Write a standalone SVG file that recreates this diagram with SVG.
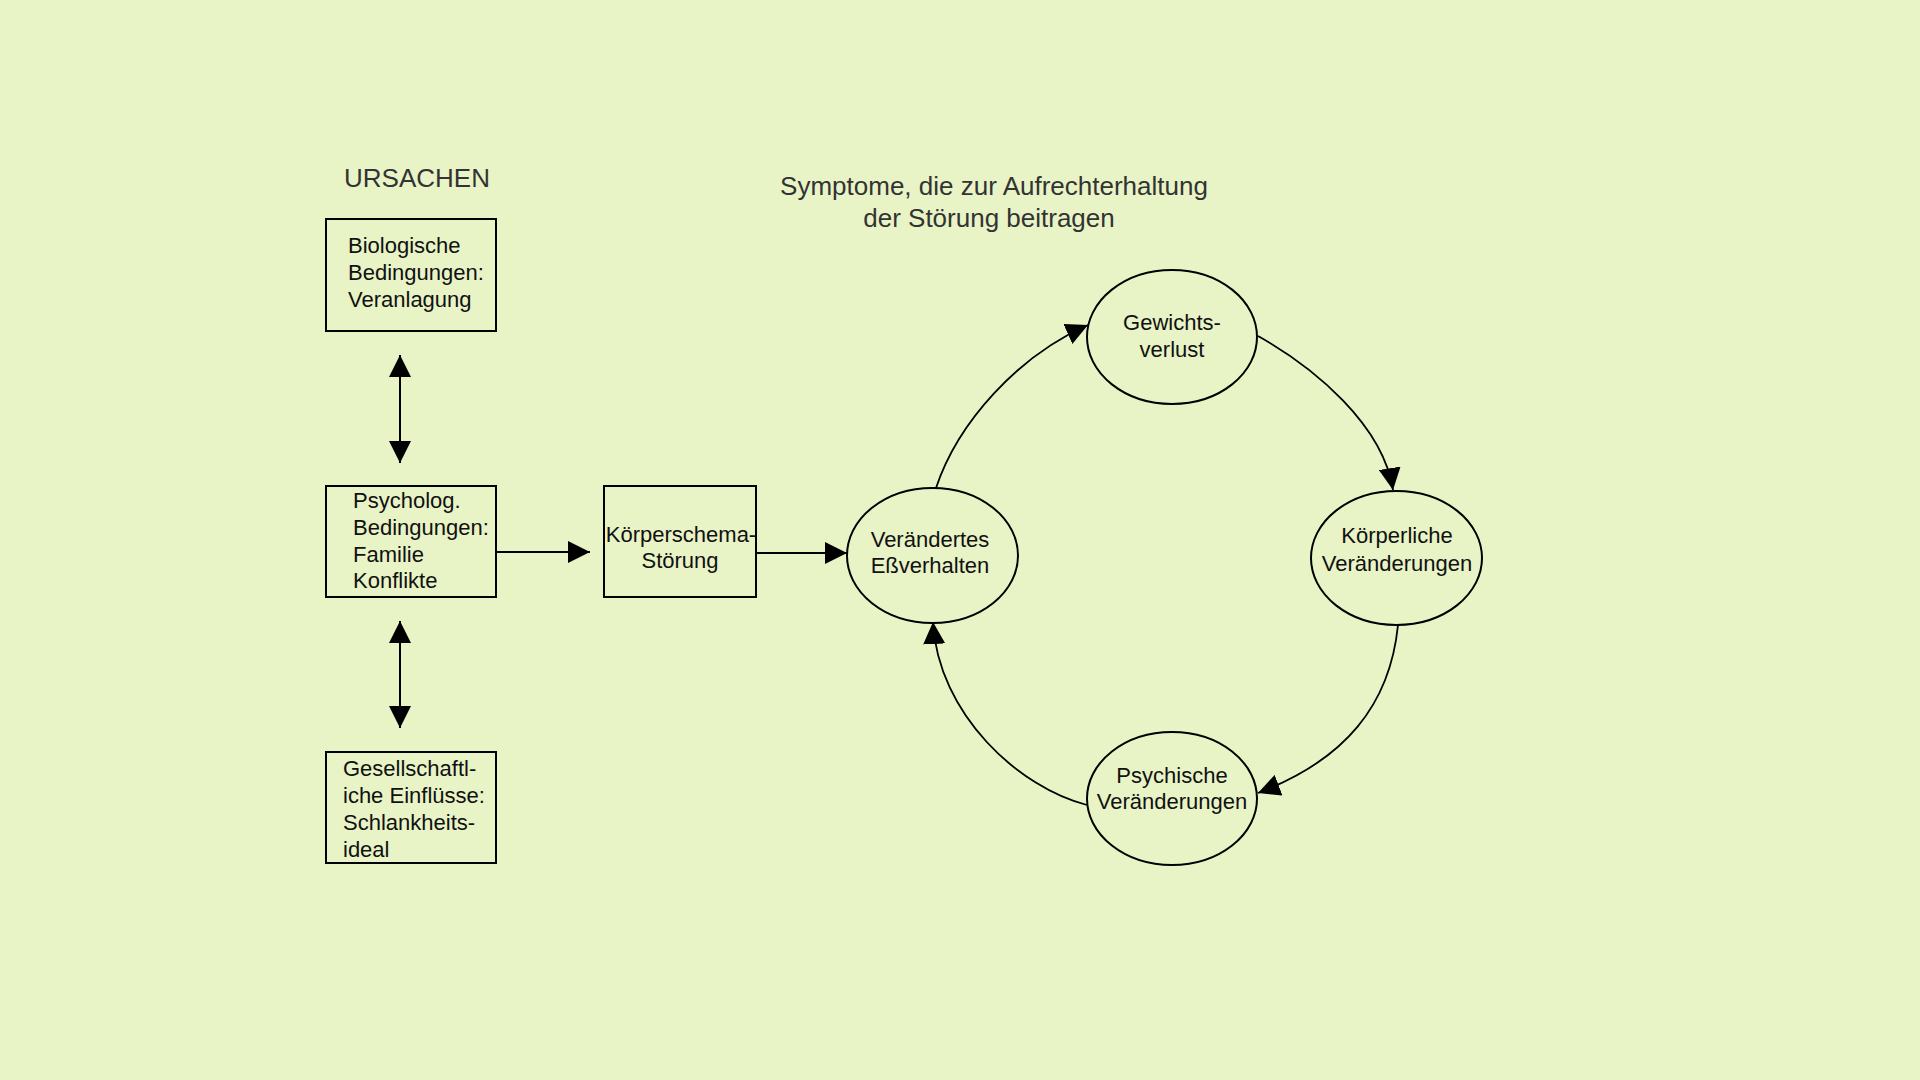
<svg xmlns="http://www.w3.org/2000/svg" width="1920" height="1080" viewBox="0 0 1920 1080">
  <style>
    .box { fill: none; stroke: #000; stroke-width: 2; }
    .ell { fill: none; stroke: #000; stroke-width: 2; }
    .lbl { font-family: "Liberation Sans", Arial, sans-serif; font-size: 22px; fill: #111; }
    .mid { text-anchor: middle; }
    .ttl { font-family: "Liberation Sans", Arial, sans-serif; font-size: 26px; fill: #333; text-anchor: middle; }
    .con { fill: none; stroke: #000; stroke-width: 2; }
    .cur { fill: none; stroke: #000; stroke-width: 1.8; }
  </style>
  <defs>
    <marker id="ah" viewBox="0 0 22 22" refX="22" refY="11" markerWidth="22" markerHeight="22" markerUnits="userSpaceOnUse" orient="auto-start-reverse">
      <path d="M0,0 L22,11 L0,22 Z" fill="#000"/>
    </marker>
  </defs>
  <rect x="0" y="0" width="1920" height="1080" fill="#e8f4c6"/>

  <g id="titles">
    <text class="ttl" x="417" y="187" font-size="27">URSACHEN</text>
    <text class="ttl" x="994" y="195">Symptome,  die zur Aufrechterhaltung</text>
    <text class="ttl" x="989" y="227">der Störung beitragen</text>
  </g>

  <g id="node-biologische">
    <rect class="box" x="326" y="219" width="170" height="112"/>
    <text class="lbl" x="348" y="253">Biologische</text>
    <text class="lbl" x="348" y="280">Bedingungen:</text>
    <text class="lbl" x="348" y="307">Veranlagung</text>
  </g>

  <g id="node-psycholog">
    <rect class="box" x="326" y="486" width="170" height="111"/>
    <text class="lbl" x="353" y="508">Psycholog.</text>
    <text class="lbl" x="353" y="535">Bedingungen:</text>
    <text class="lbl" x="353" y="562">Familie</text>
    <text class="lbl" x="353" y="588">Konflikte</text>
  </g>

  <g id="node-gesellschaft">
    <rect class="box" x="326" y="752" width="170" height="111"/>
    <text class="lbl" x="343" y="776">Gesellschaftl-</text>
    <text class="lbl" x="343" y="803">iche Einflüsse:</text>
    <text class="lbl" x="343" y="830">Schlankheits-</text>
    <text class="lbl" x="343" y="857">ideal</text>
  </g>

  <g id="node-koerperschema">
    <rect class="box" x="604" y="486" width="152" height="111"/>
    <text class="lbl mid" x="681" y="542">Körperschema-</text>
    <text class="lbl mid" x="680" y="568">Störung</text>
  </g>

  <g id="node-essverhalten">
    <ellipse class="ell" cx="932.5" cy="555.5" rx="85.5" ry="67.5"/>
    <text class="lbl mid" x="930" y="547">Verändertes</text>
    <text class="lbl mid" x="930" y="573">Eßverhalten</text>
  </g>

  <g id="node-gewichtsverlust">
    <ellipse class="ell" cx="1172" cy="337" rx="85" ry="67"/>
    <text class="lbl mid" x="1172" y="330">Gewichts-</text>
    <text class="lbl mid" x="1172" y="357">verlust</text>
  </g>

  <g id="node-koerperliche">
    <ellipse class="ell" cx="1396.5" cy="558" rx="85.5" ry="67"/>
    <text class="lbl mid" x="1397" y="543">Körperliche</text>
    <text class="lbl mid" x="1397" y="571">Veränderungen</text>
  </g>

  <g id="node-psychische">
    <ellipse class="ell" cx="1172" cy="798.5" rx="85" ry="66.5"/>
    <text class="lbl mid" x="1172" y="783">Psychische</text>
    <text class="lbl mid" x="1172" y="809">Veränderungen</text>
  </g>

  <g id="connectors">
    <line class="con" x1="400" y1="355" x2="400" y2="463" marker-start="url(#ah)" marker-end="url(#ah)"/>
    <line class="con" x1="400" y1="621" x2="400" y2="728" marker-start="url(#ah)" marker-end="url(#ah)"/>
    <line class="con" x1="496" y1="552" x2="590" y2="552" marker-end="url(#ah)"/>
    <line class="con" x1="756" y1="553" x2="847" y2="553" marker-end="url(#ah)"/>
    <path class="cur" d="M936,488 C958,422 1018,356 1088,325" marker-end="url(#ah)"/>
    <path class="cur" d="M1258,336 C1315,368 1383,425 1393,490" marker-end="url(#ah)"/>
    <path class="cur" d="M1398,625 C1390,705 1345,760 1258,793" marker-end="url(#ah)"/>
    <path class="cur" d="M1087,805 C1020,788 938,715 933,622" marker-end="url(#ah)"/>
  </g>
</svg>
